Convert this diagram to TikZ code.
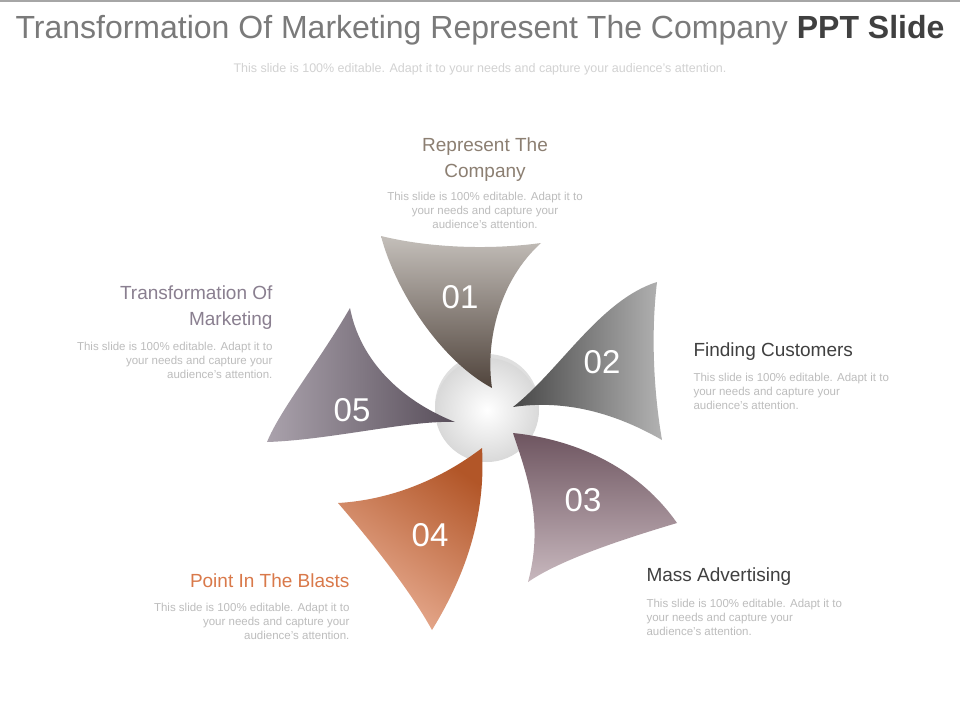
\documentclass[tikz,border=0pt]{standalone}
\usepackage{fontspec}
\setmainfont{Liberation Sans}
\usetikzlibrary{shadows}
\definecolor{ttl}{HTML}{7A7A7A}
\definecolor{sub}{HTML}{D2D2D2}
\definecolor{desc}{HTML}{BDBDBD}
\definecolor{hdA}{HTML}{8C7F72}
\definecolor{hdE}{HTML}{8A7F90}
\definecolor{hdD}{HTML}{D9794A}
\definecolor{hdB}{HTML}{404040}
\tikzset{
  num/.style={text=white,font=\fontsize{33}{33}\selectfont},
  head/.style={font=\fontsize{19}{26}\selectfont,align=center},
  dsc/.style={text=desc,font=\fontsize{11.5}{14}\selectfont},
  petal/.style={draw=none},
}
\begin{document}
\begin{tikzpicture}[x=1pt,y=-1pt]
\useasboundingbox[fill=white] (0,0) rectangle (960,720);
\draw[line width=2pt,gray!70] (0,1) -- (960,1);
\node[text=ttl,font=\fontsize{32}{33}\selectfont] (title) at (480,30) {Transformation Of Marketing Represent The Company \textbf{\color{black!75}PPT Slide}};
\node[text=sub,font=\fontsize{12.5}{14}\selectfont] (subt) at (480,69) {This slide is 100\% editable. Adapt it to your needs and capture your audience's attention.};
% center
\shade[inner color=white,outer color=black!15,drop shadow={opacity=0.25,shadow xshift=0pt,shadow yshift=4pt}] (487,410) circle (52);
% petals
\shade[petal,top color={rgb,255:red,196;green,191;blue,186},bottom color={rgb,255:red,80;green,68;blue,60}] (492,388) .. controls (440,360) and (395,290) .. (381,236) .. controls (430,248) and (490,250) .. (541,243) .. controls (500,280) and (485,340) .. cycle;
\shade[petal,left color=black!72,right color=black!30,shading angle=90] (513,407) .. controls (560,370) and (600,300) .. (657,282) .. controls (650,340) and (655,400) .. (662,440) .. controls (610,410) and (560,400) .. cycle;
\shade[petal,top color={rgb,255:red,110;green,85;blue,96},bottom color={rgb,255:red,200;green,184;blue,190}] (513,433) .. controls (580,440) and (640,470) .. (677,523) .. controls (620,540) and (560,560) .. (528,582) .. controls (545,520) and (525,470) .. cycle;
\shade[petal,top color={rgb,255:red,178;green,86;blue,40},bottom color={rgb,255:red,234;green,176;blue,150},shading angle=-35] (482,448) .. controls (440,480) and (390,500) .. (338,503) .. controls (370,540) and (410,590) .. (432,630) .. controls (475,560) and (485,500) .. cycle;
\shade[petal,left color={rgb,255:red,170;green,162;blue,172},right color={rgb,255:red,88;green,78;blue,90}] (455,422) .. controls (400,400) and (360,360) .. (350,308) .. controls (320,360) and (280,410) .. (267,442) .. controls (330,440) and (410,420) .. cycle;
\node[num] (n1) at (460,297) {01};
\node[num] (n2) at (602,362) {02};
\node[num] (n3) at (583,500) {03};
\node[num] (n4) at (430,535) {04};
\node[num] (n5) at (352,410) {05};
% labels
\node[head,text=hdA] (h1) at (485,160) {Represent The\\Company};
\node[dsc,align=center] (d1) at (485,210) {This slide is 100\% editable. Adapt it to\\your needs and capture your\\audience's attention.};
\node[head,text=hdE,align=right,anchor=east] (h5) at (276,308) {Transformation Of\\Marketing};
\node[dsc,align=right,anchor=north east] (d5) at (276,339) {This slide is 100\% editable. Adapt it to\\your needs and capture your\\audience's attention.};
\node[head,text=hdB,anchor=west] (h2) at (690,352) {Finding Customers};
\node[dsc,align=left,anchor=north west] (d2) at (690,370) {This slide is 100\% editable. Adapt it to\\your needs and capture your\\audience's attention.};
\node[head,text=hdB,anchor=west] (h3) at (643,577) {Mass Advertising};
\node[dsc,align=left,anchor=north west] (d3) at (643,596) {This slide is 100\% editable. Adapt it to\\your needs and capture your\\audience's attention.};
\node[head,text=hdD,anchor=east] (h4) at (353,581) {Point In The Blasts};
\node[dsc,align=right,anchor=north east] (d4) at (353,600) {This slide is 100\% editable. Adapt it to\\your needs and capture your\\audience's attention.};
\end{tikzpicture}
\end{document}
